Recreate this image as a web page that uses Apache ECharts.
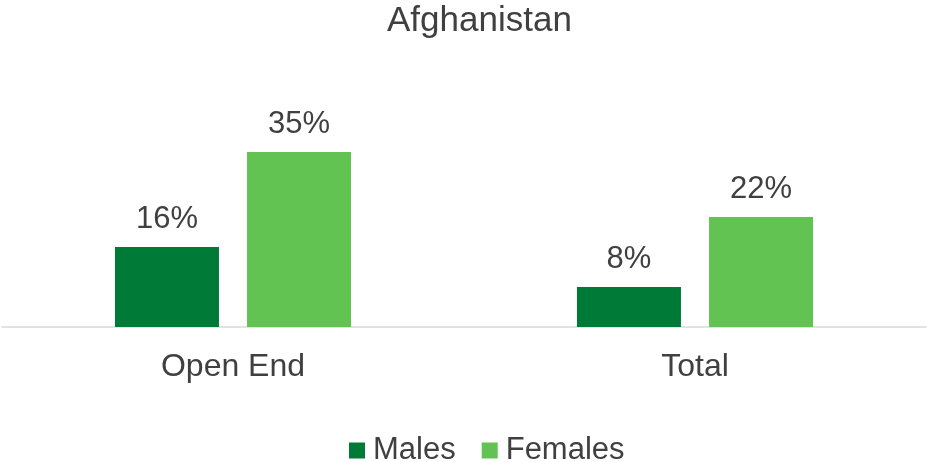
<!DOCTYPE html>
<html>
<head>
<meta charset="utf-8">
<script src="https://cdn.jsdelivr.net/npm/echarts@6/dist/echarts.min.js"></script>
<style>
  html, body { margin: 0; padding: 0; background: #fff; }
  #chart { width: 948px; height: 462px; }
</style>
</head>
<body>
<div id="chart"></div>
<script>
var categories = ["Open End", "Total"];
var males = [16, 8];
var females = [35, 22];

var chart = echarts.init(document.getElementById("chart"));
var font = "Liberation Sans, Arial, sans-serif";
var textColor = "#404040";

var labelOpt = {
    show: true,
    position: "top",
    distance: 12,
    formatter: "{c}%",
    color: textColor,
    fontSize: 31,
    fontFamily: font
};

chart.setOption({
    animation: false,
    title: {
        text: "Afghanistan",
        left: 382,
        top: -1,
        textStyle: { color: textColor, fontSize: 35, fontWeight: "normal", fontFamily: font }
    },
    legend: {
        data: ["Males", "Females"],
        left: 344,
        top: 430,
        icon: "rect",
        itemWidth: 16,
        itemHeight: 16,
        itemGap: 26,
        textStyle: { color: textColor, fontSize: 31, fontFamily: font, padding: [0, 0, 0, 3] }
    },
    grid: { left: 2, right: 22, top: 52, bottom: 135, containLabel: false },
    xAxis: {
        type: "category",
        data: categories,
        axisLine: { lineStyle: { color: "#d9d9d9", width: 1.5 } },
        axisTick: { show: false },
        axisLabel: { color: textColor, fontSize: 32, fontFamily: font, margin: 24 }
    },
    yAxis: {
        type: "value",
        min: 0,
        max: 55,
        show: false,
        splitLine: { show: false }
    },
    series: [
        {
            name: "Males",
            type: "bar",
            data: males,
            barWidth: 104,
            barGap: "27%",
            itemStyle: { color: "#007a37" },
            label: labelOpt
        },
        {
            name: "Females",
            type: "bar",
            data: females,
            barWidth: 104,
            barGap: "27%",
            itemStyle: { color: "#62c353" },
            label: labelOpt
        }
    ]
});

window.addEventListener("resize", function () {
    chart.resize();
});
</script>
</body>
</html>
